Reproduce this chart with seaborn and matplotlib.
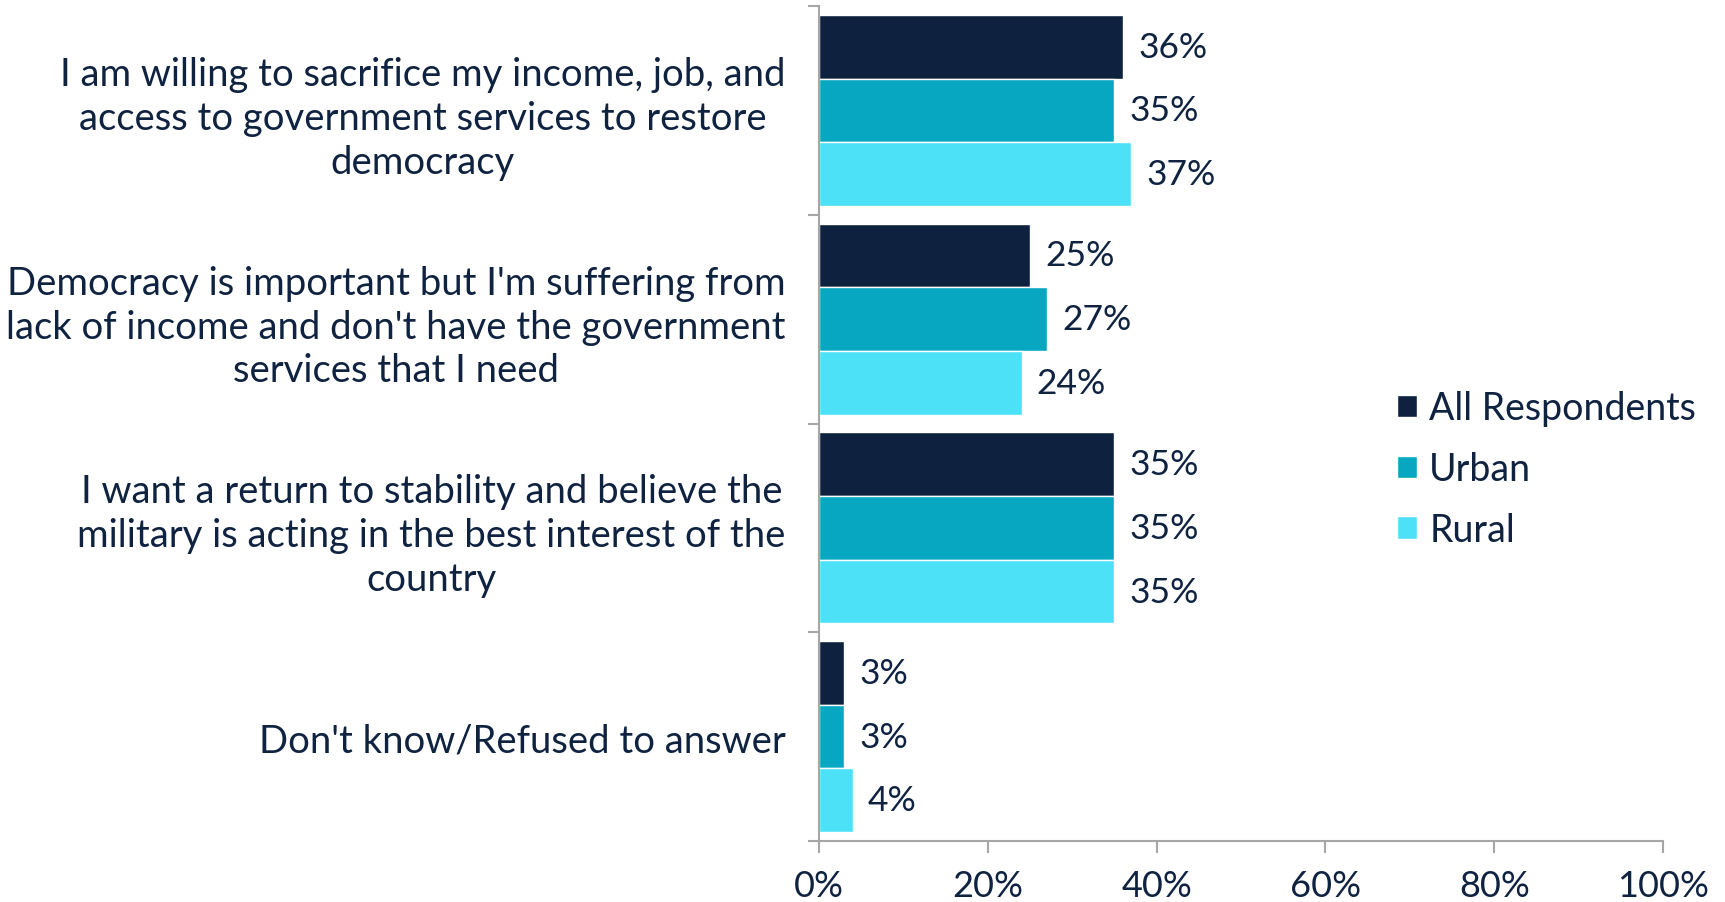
import matplotlib
matplotlib.use("Agg")
import matplotlib.pyplot as plt
import seaborn as sns
import pandas as pd

categories = [
    "I am willing to sacrifice my income, job, and\naccess to government services to restore\ndemocracy",
    "Democracy is important but I'm suffering from\nlack of income and don't have the government\nservices that I need",
    "I want a return to stability and believe the\nmilitary is acting in the best interest of the\ncountry",
    "Don't know/Refused to answer",
]
series = ["All Respondents", "Urban", "Rural"]
all_resp = [36, 25, 35, 3]
urban = [35, 27, 35, 3]
rural = [37, 24, 35, 4]
xticks = [0, 20, 40, 60, 80, 100]

colors = ["#0E2240", "#07A7C1", "#4DE1F8"]
text_color = "#0F2341"
grey = "#A6A6A6"

rows = []
for s, vals in zip(series, [all_resp, urban, rural]):
    for c, v in zip(categories, vals):
        rows.append({"category": c, "series": s, "value": v})
df = pd.DataFrame(rows)

sns.set_theme(style="white")
plt.rcParams["font.family"] = ["Lato", "DejaVu Sans"]
plt.rcParams["text.color"] = text_color

fig = plt.figure(figsize=(17.25, 9.03), dpi=100)
ax = fig.add_axes([819 / 1725, 1 - 842 / 903, (1663 - 819) / 1725, (842 - 7) / 903])

sns.barplot(data=df, y="category", x="value", hue="series", order=categories,
            hue_order=series, palette=colors, orient="h", width=0.915, gap=0,
            saturation=1, ax=ax, legend=True)

fs = 26
for cont in ax.containers:
    ax.bar_label(cont, labels=[f"{v:.0f}%" for v in cont.datavalues],
                 padding=11, fontsize=25.5, color=text_color)

ax.set_xlim(0, 100)
ax.set_xticks(xticks)
ax.set_xticklabels([f"{t}%" for t in xticks], fontsize=fs, color=text_color)
ax.set_ylim(3.5, -0.5)
ax.set_yticks(range(len(categories)))
ax.set_yticklabels(categories, fontsize=27.5, color=text_color, linespacing=1.27)
for t in ax.get_yticklabels():
    t.set_multialignment("center")
ax.set_yticks([i - 0.5 for i in range(len(categories) + 1)], minor=True)
ax.tick_params(axis="y", which="major", length=0, pad=24)
ax.tick_params(axis="y", which="minor", length=8, width=1.5, color=grey, direction="out", left=True)
ax.tick_params(axis="x", which="major", length=8.5, width=1.5, color=grey, direction="out", bottom=True, pad=12)
ax.set_xlabel("")
ax.set_ylabel("")
sns.despine(ax=ax, top=True, right=True)
for sp in ["left", "bottom"]:
    ax.spines[sp].set_color(grey)
    ax.spines[sp].set_linewidth(1.5)

sns.move_legend(ax, loc="center left", bbox_to_anchor=(1397 / 1725, 1 - 470 / 903),
                bbox_transform=fig.transFigure, frameon=False, title=None,
                fontsize=27, handlelength=0.53, handleheight=0.53,
                handletextpad=0.33, labelspacing=0.66, borderpad=0, borderaxespad=0)
for t in ax.get_legend().get_texts():
    t.set_color(text_color)

fig.savefig("out.png", dpi=100)
